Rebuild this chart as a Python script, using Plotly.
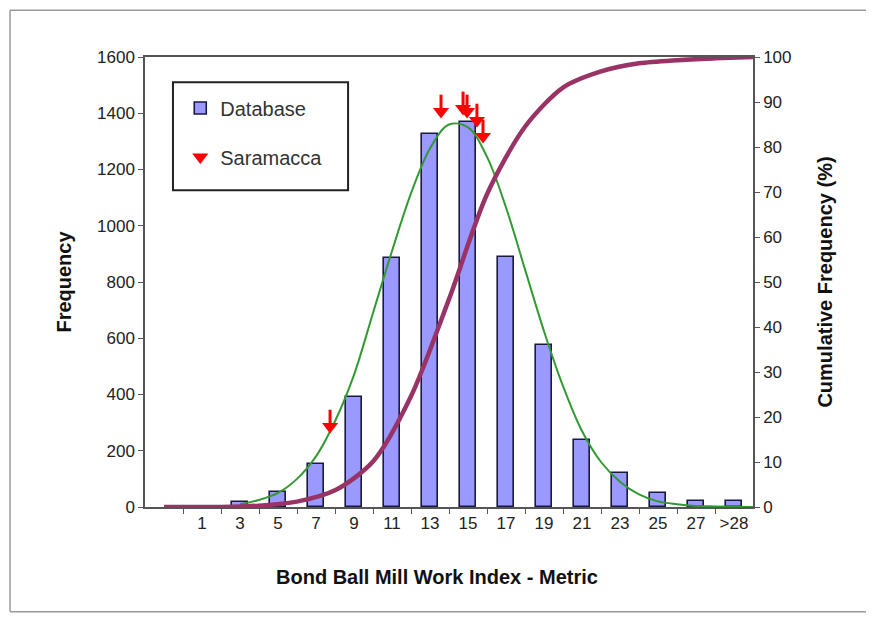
import plotly.graph_objects as go

# ---- data ----
bin_labels = ['1', '3', '5', '7', '9', '11', '13', '15', '17', '19', '21', '23', '25', '27', '>28']
bin_mid = [1, 3, 5, 7, 9, 11, 13, 15, 17, 19, 21, 23, 25, 27, 29]
db_freq = [0, 18, 53, 153, 391, 885, 1326, 1369, 889, 576, 238, 121, 50, 21, 21]

# green fitted curve
fit_x = [3, 4, 5, 6, 7, 8, 9, 10, 11, 12, 13, 14, 15, 16, 17, 18, 19, 20, 21, 22, 23, 24, 25, 26, 27, 28, 30]
fit_y = [10, 25, 50, 100, 180, 305, 470, 690, 910, 1115, 1275, 1360, 1350, 1245, 1065, 845, 625, 430,
         270, 160, 90, 45, 20, 10, 4, 2, 0]

# cumulative frequency curve (%)
cum_x = [-1, 0, 2, 4, 6, 8, 10, 12, 14, 16, 18, 20, 22, 24, 26, 28, 30]
cum_pct = [0, 0, 0, 0.3, 1.2, 3.7, 10.1, 24.6, 46.2, 69.5, 84.5, 93.2, 96.8, 98.6, 99.3, 99.7, 100]

# Saramacca sample markers (work index, frequency level of arrow head)
sar_x = [7.74, 13.58, 14.74, 14.95, 15.47, 15.79]
sar_y = [286, 1406, 1417, 1406, 1374, 1317]

FONT = "Liberation Sans, Arial, sans-serif"
AXIS_COL = "#555555"
FRAME = dict(color="#999999", width=1.5)

fig = go.Figure()

fig.add_trace(go.Bar(
    x=bin_mid, y=db_freq, name="Database", width=0.85,
    marker=dict(color="#9999FF", line=dict(color="#1a1a40", width=1.6)),
    legendgroup="a",
))

fig.add_trace(go.Scatter(
    x=fit_x, y=fit_y, mode="lines", line=dict(color="#339933", width=2, shape="spline"),
    showlegend=False, hoverinfo="skip",
))

fig.add_trace(go.Scatter(
    x=cum_x, y=cum_pct, mode="lines", yaxis="y2",
    line=dict(color="#993366", width=4.5, shape="spline", smoothing=0.8),
    showlegend=False, hoverinfo="skip",
))

fig.add_trace(go.Scatter(
    x=sar_x, y=sar_y, mode="markers", name="Saramacca",
    marker=dict(symbol="triangle-down", size=14, color="#FF0000", line=dict(width=0)),
    error_y=dict(type="constant", symmetric=False, value=60, valueminus=0,
                 thickness=3, width=0, color="#FF0000"),
    legendgroup="b",
))

tick_font = dict(family=FONT, size=17, color="#222222")
title_font = dict(family=FONT, size=20, color="#111111")

fig.update_layout(
    width=866, height=611,
    margin=dict(l=137, r=121, t=49, b=112),
    paper_bgcolor="white", plot_bgcolor="white",
    bargap=0,
    xaxis=dict(
        range=[-2, 30], tickmode="array", tickvals=bin_mid, ticktext=bin_labels,
        ticks="", showgrid=False, zeroline=False,
        showline=True, linecolor=AXIS_COL, linewidth=1.5, mirror=True,
        tickfont=tick_font,
        minor=dict(tickmode="array", tickvals=list(range(0, 30, 2)), ticks="outside",
                   ticklen=5, tickwidth=1.2, tickcolor=AXIS_COL, showgrid=False),
    ),
    yaxis=dict(
        range=[0, 1600], dtick=200, ticks="outside", ticklen=5, tickwidth=1.2, tickcolor=AXIS_COL,
        showgrid=False, zeroline=False, showline=True, linecolor=AXIS_COL, linewidth=1.5,
        tickfont=tick_font,
        title=dict(text="<b>Frequency</b>", font=title_font, standoff=20),
    ),
    yaxis2=dict(
        range=[0, 100], dtick=10, overlaying="y", side="right",
        ticks="outside", ticklen=5, tickwidth=1.2, tickcolor=AXIS_COL,
        showgrid=False, zeroline=False, showline=True, linecolor=AXIS_COL, linewidth=1.5,
        tickfont=tick_font,
        title=dict(text="<b>Cumulative Frequency (%)</b>", font=title_font, standoff=27),
    ),
    legend=dict(
        x=0.058, y=0.93, xanchor="left", yanchor="top",
        bgcolor="rgba(0,0,0,0)", borderwidth=0,
        font=dict(family=FONT, size=20, color="#333333"),
        traceorder="grouped", tracegroupgap=20,
    ),
    annotations=[
        dict(text="<b>Bond Ball Mill Work Index - Metric</b>", xref="paper", yref="paper",
             x=0.48, y=-0.156, xanchor="center", yanchor="middle", showarrow=False,
             font=title_font),
    ],
    shapes=[
        # legend frame
        dict(type="rect", xref="paper", yref="paper", x0=0.046, x1=0.334, y0=0.704, y1=0.944,
             line=dict(color="#222222", width=2)),
        # outer chart frame (top, left, bottom edges; right edge lies beyond the picture)
        dict(type="line", xref="paper", yref="paper", x0=-0.222, x1=1.3, y0=1.104, y1=1.104,
             line=FRAME, layer="below"),
        dict(type="line", xref="paper", yref="paper", x0=-0.222, x1=-0.222, y0=-0.233, y1=1.104,
             line=FRAME, layer="below"),
        dict(type="line", xref="paper", yref="paper", x0=-0.222, x1=1.3, y0=-0.233, y1=-0.233,
             line=FRAME, layer="below"),
    ],
)

fig.write_html("out.html")
